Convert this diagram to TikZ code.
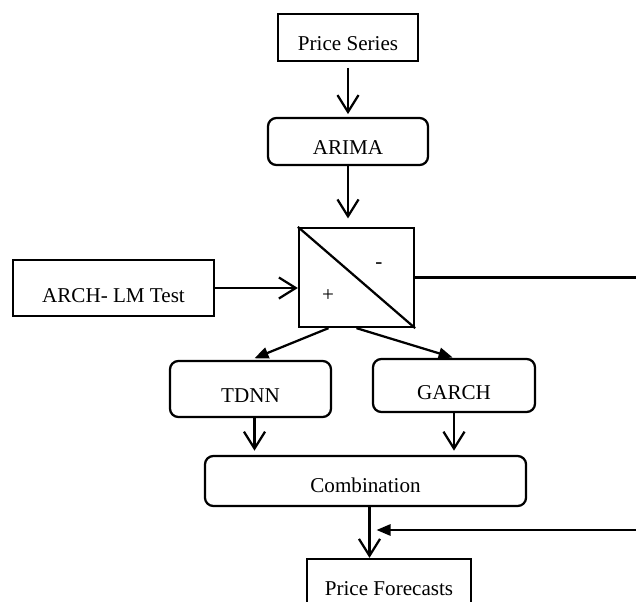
\documentclass[tikz,border=0pt]{standalone}
\usepackage{fontspec}
\setmainfont{Liberation Serif}
\usetikzlibrary{arrows.meta}

\tikzset{
    plain/.style={draw, line width=1.6pt, inner sep=0pt, text height=19pt, text depth=0pt},
    roundbox/.style={plain, rounded corners=6pt},
    link/.style={line width=1.6pt, -{Straight Barb[length=12pt,width=15pt,line width=1.6pt]}},
    fork/.style={line width=1.6pt, -{Triangle[length=10pt,width=8pt]}},
}

\begin{document}
\begin{tikzpicture}[x=0.025cm, y=-0.025cm, font=\fontsize{15}{18}\selectfont]
            \clip (0,0) rectangle (636,601);

            % Boxes
            \node[plain, minimum width=3.5cm, minimum height=1.175cm] (series) at (348,37.5) {Price Series};
            \node[roundbox, minimum width=4cm, minimum height=1.175cm] (arima) at (348,141.5) {ARIMA};
            \node[plain, minimum width=2.875cm, minimum height=2.475cm, text height=0pt] (sw) at (356.5,277.5) {};
            \node[plain, minimum width=5.025cm, minimum height=1.4cm, text height=21pt] (arch) at (113.5,288) {ARCH- LM Test};
            \node[roundbox, minimum width=4.025cm, minimum height=1.4cm] (tdnn) at (250.5,389) {TDNN};
            \node[roundbox, minimum width=4.05cm, minimum height=1.325cm, text height=20pt] (garch) at (454,385.5) {GARCH};
            \node[roundbox, minimum width=8.025cm, minimum height=1.25cm, text height=17pt] (comb) at (365.5,481) {Combination};
            \node[plain, minimum width=4.1cm, minimum height=1.175cm] (fcast) at (389,582.5) {Price Forecasts};

            % Switch
            \draw[line width=1.6pt] (sw.north west) -- (sw.south east);
            \node[inner sep=0pt] (minus) at (379,266) {-};
            \node[inner sep=0pt] (plus) at (328,296) {+};

            \coordinate (swout) at (636,277.5);
            \coordinate (fbout) at (636,530);
            \coordinate (drop) at ([xshift=0.1cm]comb.south);

            % Connectors
            \draw[link, shorten <=4pt, shorten >=2pt] (series) -- (arima);
            \draw[link, shorten >=6pt] (arima.south) -- (arima.south |- sw.north);
            \draw[link] (arch.east) -- (arch.east -| sw.west);
            \draw[line width=1.6pt] (sw.east) -- (swout);
            \draw[fork, shorten >=3pt] ([xshift=-0.7cm]sw.south) -- (tdnn.north);
            \draw[fork, shorten >=1pt] (sw.south) -- (garch.north);
            \draw[link, shorten >=3pt] ([xshift=0.1cm]tdnn.south) -- ([xshift=0.1cm]tdnn.south |- comb.north);
            \draw[link, shorten >=3pt] (garch.south) -- (garch.south |- comb.north);
            \draw[link] (drop) -- (drop |- fcast.north);
            \draw[fork, shorten >=5pt] (fbout) -- (fbout -| drop);
            \end{tikzpicture}
\end{document}
